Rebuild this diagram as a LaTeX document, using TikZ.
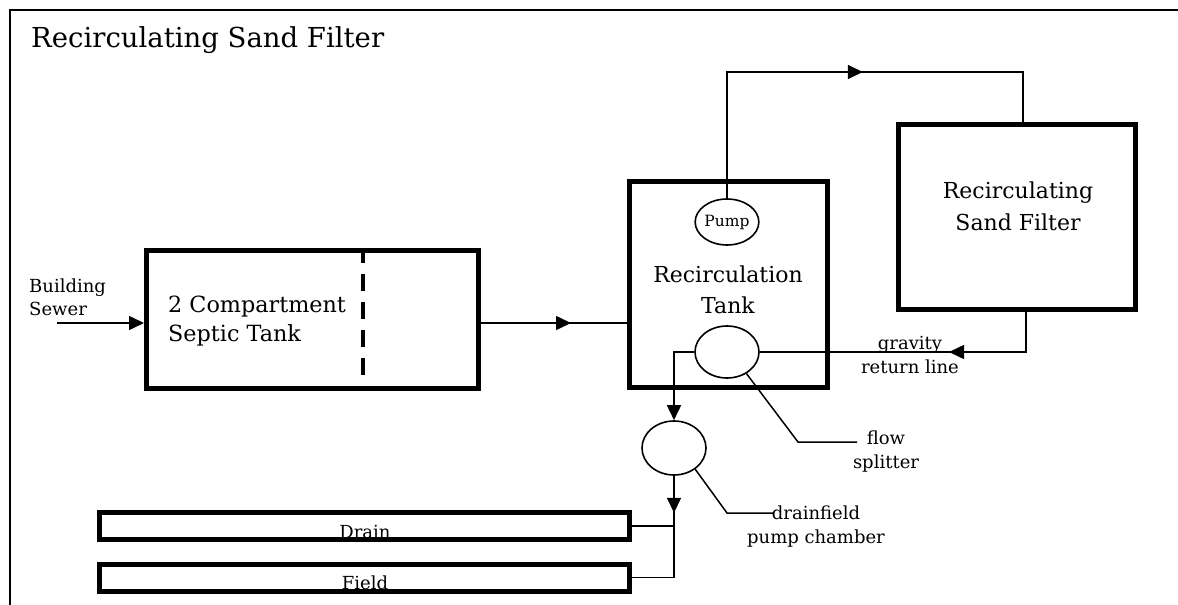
\documentclass[tikz,border=0pt]{standalone}
\usepackage{fontspec}
\setmainfont{DejaVu Serif}
\usetikzlibrary{arrows.meta,shapes.geometric,decorations.markings}

\tikzset{
  tank/.style={draw, line width=5pt, inner sep=0pt},
  chamber/.style={draw, ellipse, line width=1.6pt, inner sep=0pt},
  pipe/.style={line width=1.6pt},
  leader/.style={line width=1.5pt},
  flowtip/.style={decoration={markings,
      mark=at position #1 with {\arrow{Triangle[length=15pt,width=14pt]}}},
      postaction={decorate}},
  note/.style={font=\fontsize{18}{24}\selectfont, align=center, inner sep=0pt},
  tanklbl/.style={font=\fontsize{22}{31}\selectfont, align=center, inner sep=0pt}
}

\begin{document}
\begin{tikzpicture}[x=1pt, y=-1pt, >={Triangle[length=15pt,width=14pt]}]
\useasboundingbox (0,0) rectangle (1178,605);

% frame and title
\draw[line width=1.5pt] (10,605)--(10,10)--(1178,10);
\node[anchor=base west, inner sep=0pt, font=\fontsize{27.5}{33}\selectfont] (title) at (31,47) {Recirculating Sand Filter};

% septic tank
\node[tank, minimum width=332pt, minimum height=138pt] (septic) at (312.5,319.5) {};
\draw[line width=3.8pt, dash pattern=on 17pt off 11pt] (363,375)--(363,250);
\node[anchor=west, align=left, inner sep=0pt, font=\fontsize{22.3}{29}\selectfont] (septiclbl) at (168,321) {2 Compartment\\Septic Tank};

\coordinate (sewer) at (57,323);
\node[anchor=west, align=left, inner sep=0pt, font=\fontsize{18}{23}\selectfont] (sewerlbl) at (29,297) {Building\\Sewer};
\draw[pipe,->] (sewer)--(sewer -| septic.west);

% recirculation tank
\node[tank, minimum width=198pt, minimum height=206pt] (recirc) at (728.5,284.5) {};
\node[tanklbl] (recirclbl) at (728,290) {Recirculation\\Tank};
\node[chamber, minimum width=62pt, minimum height=46pt, font=\fontsize{15.5}{15.5}\selectfont] (pump) at (727,222) {Pump};
\node[chamber, minimum width=64pt, minimum height=52pt] (splitter) at (727,352) {};
\draw[pipe, flowtip=90pt] (septic.east |- sewer)--(recirc.west |- sewer);

% sand filter
\node[tank, minimum width=237pt, minimum height=185pt] (filter) at (1017,217) {};
\node[tanklbl, font=\fontsize{22}{32}\selectfont] (filterlbl) at (1018,206) {Recirculating\\Sand Filter};

\coordinate (pumptop) at (727,72);
\coordinate (filtertop) at (1023,72);
\draw[pipe, flowtip=262pt] (pump.north)--(pumptop)--(filtertop)--(filtertop |- filter.north);

\coordinate (retcorner) at (1026,352);
\draw[pipe, flowtip=117pt] (filter.south -| retcorner)--(retcorner)--(splitter.east);
\node[note] (retlbl) at (910,355) {gravity\\return line};

% drainfield
\node[chamber, minimum width=64pt, minimum height=54pt] (dchamber) at (674,448) {};
\draw[pipe,->] (splitter.west)--(dchamber.north |- splitter.west)--(dchamber.north);

\foreach \y/\t/\n in {526/Drain/drain, 577.5/Field/field}
{
   \node[tank, minimum width=530pt, minimum height=27pt] (\n) at (364.5,\y) {};
   \node[anchor=base, inner sep=0pt, font=\fontsize{18}{18}\selectfont] (\n lbl) at (365,\y+12) {\t};
}
\coordinate (fieldjoin) at (dchamber.south |- field.east);
\draw[pipe, flowtip=37pt] (dchamber.south)--(fieldjoin)--(field.east);
\draw[pipe] (dchamber.south |- drain.east)--(drain.east);

% leaders
\coordinate (fsknee) at (798,442);
\coordinate (fsend) at (857,442);
\draw[leader] (splitter.-48)--(fsknee)--(fsend);
\node[note] (fslbl) at (886,452) {flow\\splitter};

\coordinate (dfknee) at (727,513);
\coordinate (dfend) at (773,513);
\draw[leader] (dchamber.-45)--(dfknee)--(dfend);
\node[note] (dflbl) at (816,527) {drainfield\\pump chamber};
\end{tikzpicture}
\end{document}
